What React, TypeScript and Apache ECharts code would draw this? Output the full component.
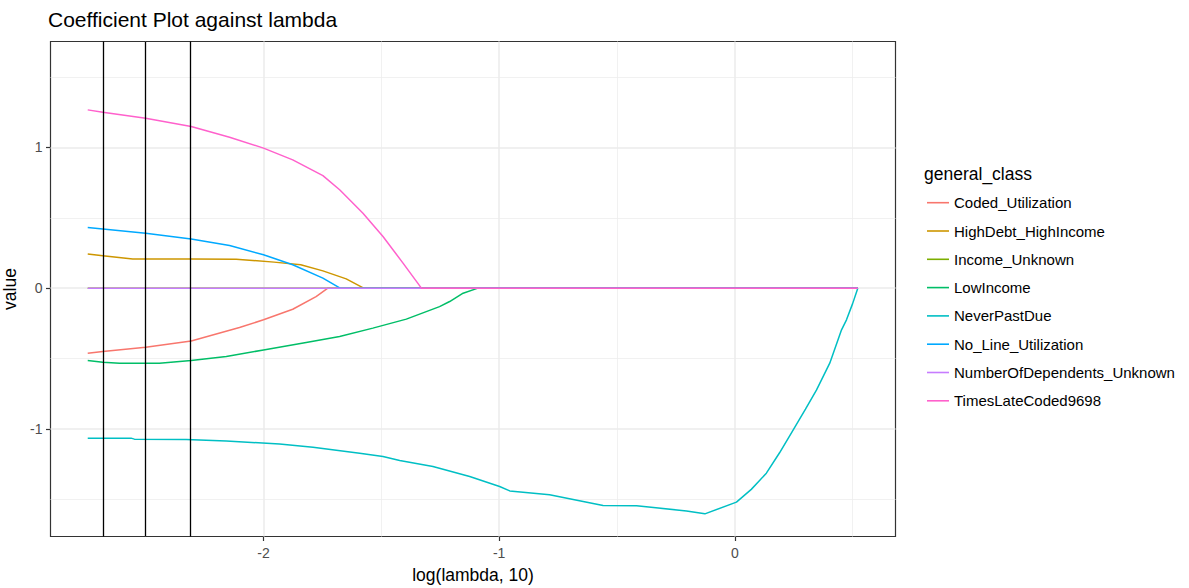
import React, { useEffect, useRef } from "react";
import * as echarts from "echarts";

// Coefficient paths of the penalised model, read as [log10(lambda), coefficient]
const classNames = [
  "Coded_Utilization",
  "HighDebt_HighIncome",
  "Income_Unknown",
  "LowIncome",
  "NeverPastDue",
  "No_Line_Utilization",
  "NumberOfDependents_Unknown",
  "TimesLateCoded9698",
];

const codedUtilization = [
  [-2.746, -0.462], [-2.682, -0.45], [-2.5, -0.42], [-2.307, -0.375], [-2.102, -0.28],
  [-2.0, -0.225], [-1.876, -0.15], [-1.777, -0.06], [-1.727, 0], [0.522, 0],
];
const highDebtHighIncome = [
  [-2.746, 0.242], [-2.682, 0.23], [-2.555, 0.208], [-2.307, 0.208], [-2.116, 0.206],
  [-1.955, 0.185], [-1.842, 0.166], [-1.748, 0.123], [-1.649, 0.066], [-1.575, 0], [0.522, 0],
];
const incomeUnknown = [[-2.746, 0], [0.522, 0]];
const lowIncome = [
  [-2.746, -0.514], [-2.682, -0.526], [-2.611, -0.533], [-2.442, -0.533], [-2.307, -0.514],
  [-2.158, -0.486], [-2.0, -0.439], [-1.819, -0.386], [-1.677, -0.344], [-1.536, -0.284],
  [-1.394, -0.22], [-1.253, -0.131], [-1.21, -0.095], [-1.153, -0.036], [-1.09, 0], [0.522, 0],
];
const neverPastDue = [
  [-2.746, -1.066], [-2.562, -1.066], [-2.548, -1.073], [-2.328, -1.076], [-2.158, -1.087],
  [-1.932, -1.107], [-1.79, -1.13], [-1.592, -1.173], [-1.493, -1.197], [-1.422, -1.225],
  [-1.281, -1.268], [-1.125, -1.339], [-0.998, -1.41], [-0.955, -1.441], [-0.786, -1.469],
  [-0.559, -1.545], [-0.417, -1.547], [-0.205, -1.583], [-0.127, -1.604], [0.007, -1.521],
  [0.07, -1.43], [0.134, -1.315], [0.19, -1.17], [0.248, -1.007], [0.3, -0.86], [0.347, -0.723],
  [0.403, -0.533], [0.453, -0.296], [0.474, -0.225], [0.5, -0.11], [0.522, 0],
];
const noLineUtilization = [
  [-2.746, 0.431], [-2.682, 0.421], [-2.5, 0.391], [-2.307, 0.35], [-2.144, 0.303],
  [-2.0, 0.237], [-1.876, 0.166], [-1.748, 0.071], [-1.675, 0], [0.522, 0],
];
const numberOfDependentsUnknown = [[-2.746, 0], [0.522, 0]];
const timesLateCoded9698 = [
  [-2.746, 1.267], [-2.682, 1.251], [-2.5, 1.208], [-2.307, 1.149], [-2.144, 1.073],
  [-2.0, 0.995], [-1.876, 0.912], [-1.748, 0.8], [-1.677, 0.699], [-1.578, 0.533],
  [-1.493, 0.367], [-1.408, 0.178], [-1.33, 0], [0.522, 0],
];

const classSeries = [
  codedUtilization,
  highDebtHighIncome,
  incomeUnknown,
  lowIncome,
  neverPastDue,
  noLineUtilization,
  numberOfDependentsUnknown,
  timesLateCoded9698,
];

// Selected lambda values marked with vertical rules
const lambdaCutoffs = [-2.682, -2.5, -2.307];

// Axis breaks
const xBreaks = [-2, -1, 0];
const xMinorBreaks = [-2.5, -1.5, -0.5, 0.5];
const yBreaks = [-1, 0, 1];
const yMinorBreaks = [-1.5, -0.5, 0.5, 1.5];

const X_MIN = -2.904;
const X_MAX = 0.682;
const Y_MIN = -1.765;
const Y_MAX = 1.753;

const COLORS = ["#F8766D", "#CD9600", "#7CAE00", "#00BE67", "#00BFC4", "#00A9FF", "#C77CFF", "#FF61CC"];
const FONT = "'Liberation Sans', Arial, Helvetica, sans-serif";

export default function App() {
  const ref = useRef<HTMLDivElement>(null);

  useEffect(() => {
    if (!ref.current) return;
    const chart = echarts.init(ref.current, null, { renderer: "svg" });

    const lineSeries = classNames.map((name, i) => ({
      name,
      type: "line",
      data: classSeries[i],
      symbol: "none",
      showSymbol: false,
      z: 3,
      lineStyle: { color: COLORS[i], width: 1.5 },
      itemStyle: { color: COLORS[i] },
      emphasis: { disabled: true },
    }));

    const gridLines = {
      name: "__grid",
      type: "line",
      data: [],
      z: 1,
      silent: true,
      markLine: {
        silent: true,
        z: 1,
        symbol: ["none", "none"],
        label: { show: false },
        emphasis: { disabled: true },
        lineStyle: { color: "#EBEBEB", width: 1.5, type: "solid" },
        data: [
          ...xMinorBreaks.map((v) => ({ xAxis: v, lineStyle: { color: "#EEEEEE", width: 0.8, type: "solid" } })),
          ...yMinorBreaks.map((v) => ({ yAxis: v, lineStyle: { color: "#EEEEEE", width: 0.8, type: "solid" } })),
          ...xBreaks.map((v) => ({ xAxis: v })),
          ...yBreaks.map((v) => ({ yAxis: v })),
        ],
      },
    };

    const cutoffLines = {
      name: "__cutoffs",
      type: "line",
      data: [],
      z: 5,
      silent: true,
      markLine: {
        silent: true,
        z: 5,
        symbol: ["none", "none"],
        label: { show: false },
        emphasis: { disabled: true },
        lineStyle: { color: "#000000", width: 1.3, type: "solid" },
        data: lambdaCutoffs.map((v) => ({ xAxis: v })),
      },
    };

    chart.setOption({
      animation: false,
      backgroundColor: "#ffffff",
      title: [
        {
          text: "Coefficient Plot against lambda",
          left: 48,
          top: 8,
          padding: 0,
          textStyle: { fontFamily: FONT, fontSize: 21, fontWeight: "normal", color: "#000000", lineHeight: 22 },
        },
        {
          text: "general_class",
          left: 924,
          top: 165,
          padding: 0,
          textStyle: { fontFamily: FONT, fontSize: 17.5, fontWeight: "normal", color: "#000000", lineHeight: 18 },
        },
      ],
      legend: {
        orient: "vertical",
        left: 927,
        top: 194.7,
        padding: 0,
        icon: "rect",
        itemWidth: 22,
        itemHeight: 1.6,
        itemGap: 12.3,
        selectedMode: false,
        data: classNames,
        textStyle: { fontFamily: FONT, fontSize: 15, lineHeight: 16, color: "#000000" },
      },
      grid: {
        show: true,
        left: 50.5,
        top: 41.5,
        right: 293.5,
        bottom: 51.5,
        containLabel: false,
        outerBoundsMode: "none",
        backgroundColor: "#ffffff",
        borderColor: "#333333",
        borderWidth: 1.2,
      },
      xAxis: {
        type: "value",
        min: X_MIN,
        max: X_MAX,
        splitLine: { show: false },
        minorSplitLine: { show: false },
        axisLine: { show: false, onZero: false },
        axisTick: { show: true, length: 4.5, lineStyle: { color: "#333333", width: 1.2 }, customValues: xBreaks },
        axisLabel: {
          customValues: xBreaks,
          margin: 9.5,
          color: "#4D4D4D",
          fontSize: 14,
          lineHeight: 14,
          fontFamily: FONT,
        },
        name: "log(lambda, 10)",
        nameLocation: "middle",
        nameGap: 29,
        nameTextStyle: { fontFamily: FONT, fontSize: 17.5, lineHeight: 18, color: "#000000" },
      },
      yAxis: {
        type: "value",
        min: Y_MIN,
        max: Y_MAX,
        splitLine: { show: false },
        minorSplitLine: { show: false },
        axisLine: { show: false, onZero: false },
        axisTick: { show: true, length: 4.5, lineStyle: { color: "#333333", width: 1.2 }, customValues: yBreaks },
        axisLabel: {
          customValues: yBreaks,
          margin: 8,
          color: "#4D4D4D",
          fontSize: 14,
          fontFamily: FONT,
        },
        name: "value",
        nameLocation: "middle",
        nameGap: 24,
        nameTextStyle: { fontFamily: FONT, fontSize: 17.5, lineHeight: 18, color: "#000000" },
      },
      series: [gridLines, ...lineSeries, cutoffLines],
    });

    return () => chart.dispose();
  }, []);

  return (
    <div
      ref={ref}
      style={{ position: "fixed", left: 0, top: 0, width: 1189, height: 588, background: "#ffffff" }}
    />
  );
}
